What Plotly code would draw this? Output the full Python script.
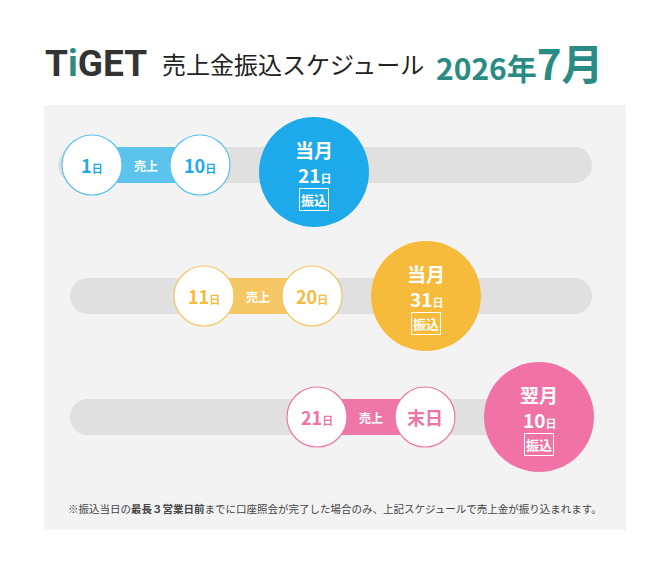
import plotly.graph_objects as go

# schedule data
sale_start = ["1", "11", "21"]
sale_end = ["10", "20", "末日"]
pay_month = ["当月", "当月", "翌月"]
pay_day = ["21", "31", "10"]
band_colors = ["#5cc3ec", "#f5c765", "#ee77a8"]
big_colors = ["#1eaaea", "#f6bb3b", "#f173a5"]

title_main = "売上金振込スケジュール"
title_year = "2026年"
title_month = "7月"
note = "※振込当日の<b>最長３営業日前</b>までに口座照会が完了した場合のみ、上記スケジュールで売上金が振り込まれます。"

W, H = 670, 573
OFF = 8  # page body margin
font = "Noto Sans CJK JP"

fig = go.Figure()
shapes = []
ann = []

# panel
shapes.append(dict(type="rect", x0=44, x1=626, y0=105, y1=530,
                   fillcolor="#f3f3f3", line_width=0, layer="below"))

row_y = [165, 296, 417]
start_x = [92, 204, 317]
step = 108
big_gap = 114
track_left = [58, 70, 70]
r_small, r_big, half_h = 30, 55, 18

for i in range(len(sale_start)):
    y = row_y[i]
    x1 = start_x[i]
    x2 = x1 + step
    xb = x2 + big_gap
    # gray track (rounded)
    shapes.append(dict(type="rect", x0=track_left[i] + half_h, x1=592 - half_h,
                       y0=y - half_h, y1=y + half_h, fillcolor="#e0e0e0", line_width=0))
    for cx in (track_left[i] + half_h, 592 - half_h):
        shapes.append(dict(type="circle", x0=cx - half_h, x1=cx + half_h,
                           y0=y - half_h, y1=y + half_h, fillcolor="#e0e0e0", line_width=0))
    # sales band
    shapes.append(dict(type="rect", x0=x1, x1=x2, y0=y - half_h, y1=y + half_h,
                       fillcolor=band_colors[i], line_width=0))
    for cx in (x1, x2):
        shapes.append(dict(type="circle", x0=cx - r_small, x1=cx + r_small,
                           y0=y - r_small, y1=y + r_small, fillcolor="white",
                           line=dict(color=band_colors[i], width=1.2)))
    ann.append(dict(x=(x1 + x2) / 2, y=y, text="<b>売上</b>", showarrow=False,
                    font=dict(size=12, color="white", family=font)))
    for cx, lab in ((x1, sale_start[i]), (x2, sale_end[i])):
        txt = f"<b>{lab}</b>" if lab == "末日" else f"<b>{lab}<span style='font-size:11px'>日</span></b>"
        ann.append(dict(x=cx, y=y, text=txt, showarrow=False,
                        font=dict(size=18, color=big_colors[i], family=font)))
    # payout circle
    by = y + (7 if i == 0 else 0)
    shapes.append(dict(type="circle", x0=xb - r_big, x1=xb + r_big,
                       y0=by - r_big, y1=by + r_big, fillcolor=big_colors[i], line_width=0))
    ann.append(dict(x=xb, y=by - 23, text=f"<b>{pay_month[i]}</b>", showarrow=False,
                    font=dict(size=19, color="white", family=font)))
    ann.append(dict(x=xb, y=by + 2, text=f"<b>{pay_day[i]}<span style='font-size:11px'>日</span></b>",
                    showarrow=False, font=dict(size=19, color="white", family=font)))
    ann.append(dict(x=xb, y=by + 27, text="<b>振込</b>", showarrow=False,
                    bordercolor="white", borderwidth=1, borderpad=1,
                    font=dict(size=13, color="white", family=font)))

# title
ann.append(dict(x=43, y=63, xanchor="left", showarrow=False,
                text="<b>T<span style='color:#2a8b84'>i</span>GET</b>",
                font=dict(size=37, color="#333333", family="Roboto")))
ann.append(dict(x=160, y=63, xanchor="left", showarrow=False, text=title_main,
                font=dict(size=24, color="#222222", family=font)))
ann.append(dict(x=434, y=61, xanchor="left", showarrow=False,
                text=f"<b>{title_year}<span style='font-size:42px'>{title_month}</span></b>",
                font=dict(size=30, color="#2a8b84", family=font)))
ann.append(dict(x=335, y=508, showarrow=False, text=note,
                font=dict(size=10.5, color="#444444", family=font)))

fig.update_layout(
    width=W, height=H, margin=dict(l=0, r=0, t=0, b=0),
    paper_bgcolor="white", plot_bgcolor="white",
    xaxis=dict(range=[OFF, W + OFF], visible=False, fixedrange=True),
    yaxis=dict(range=[H + OFF, OFF], visible=False, fixedrange=True),
    shapes=shapes, annotations=ann, showlegend=False,
)

fig.write_html("out.html")
